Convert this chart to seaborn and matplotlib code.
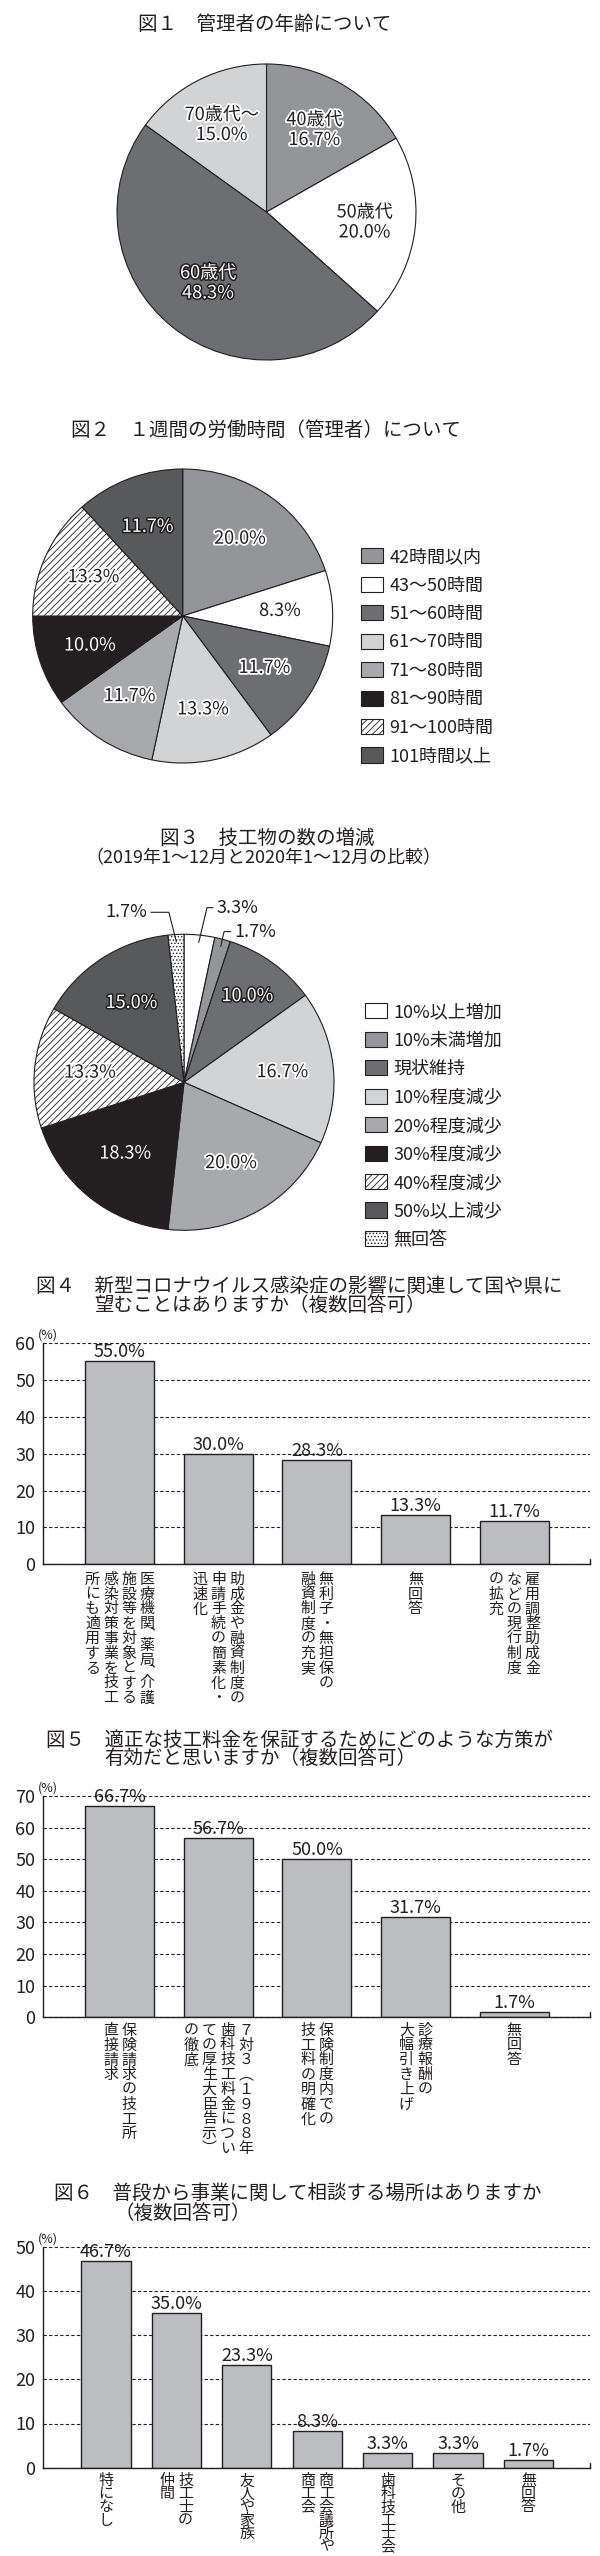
import numpy as np
import pandas as pd
import matplotlib
matplotlib.use('Agg')
import matplotlib.pyplot as plt
import matplotlib.patheffects as pe
import seaborn as sns

# ---------------- data ----------------
age_labels = ['40歳代', '50歳代', '60歳代', '70歳代〜']
age_values = [16.7, 20.0, 48.3, 15.0]

hours_labels = ['42時間以内', '43〜50時間', '51〜60時間', '61〜70時間',
                '71〜80時間', '81〜90時間', '91〜100時間', '101時間以上']
hours_values = [20.0, 8.3, 11.7, 13.3, 11.7, 10.0, 13.3, 11.7]

change_labels = ['10%以上増加', '10%未満増加', '現状維持', '10%程度減少', '20%程度減少',
                 '30%程度減少', '40%程度減少', '50%以上減少', '無回答']
change_values = [3.3, 1.7, 10.0, 16.7, 20.0, 18.3, 13.3, 15.0, 1.7]

q4_cols = [['医療機関、薬局、介護', '施設等を対象とする', '感染対策事業を技工', '所にも適用する'],
           ['助成金や融資制度の', '申請手続の簡素化・', '迅速化'],
           ['無利子・無担保の', '融資制度の充実'],
           ['無回答'],
           ['雇用調整助成金', 'などの現行制度', 'の拡充']]
q4_values = [55.0, 30.0, 28.3, 13.3, 11.7]

q5_cols = [['保険請求の技工所', '直接請求'],
           ['７対３（１９８８年', '歯科技工料金につい', 'ての厚生大臣告示）', 'の徹底'],
           ['保険制度内での', '技工料の明確化'],
           ['診療報酬の', '大幅引き上げ'],
           ['無回答']]
q5_values = [66.7, 56.7, 50.0, 31.7, 1.7]

q6_cols = [['特になし'], ['技工士の', '仲間'], ['友人や家族'], ['商工会議所や', '商工会'],
           ['歯科技工士会'], ['その他'], ['無回答']]
q6_values = [46.7, 35.0, 23.3, 8.3, 3.3, 3.3, 1.7]

# ---------------- style ----------------
sns.set_theme(style='white')
plt.rcParams['font.family'] = ['Noto Sans CJK JP', 'DejaVu Sans']
plt.rcParams['hatch.linewidth'] = 0.6
INK = '#231f20'
BAR = '#bcbdc0'
plt.rcParams['text.color'] = INK

W, H = 600, 2556
fig = plt.figure(figsize=(W / 100, H / 100), dpi=100)
fig.patch.set_facecolor('white')


def rect(l, t, w, h):
    return [l / W, 1 - (t + h) / H, w / W, h / H]


def ftext(x, y, s, size=14, ha='left'):
    fig.text(x / W, 1 - y / H, s, fontsize=size, ha=ha, va='center', color=INK)


FX = {'w': dict(color='white', path_effects=[pe.withStroke(linewidth=2.2, foreground=INK)]),
      'k': dict(color=INK, path_effects=[pe.withStroke(linewidth=2.6, foreground='white')])}


def pie_axes(cx, cy, rx, ry, values, colors, hatches, texts, styles, dists):
    L = 1.35
    ax = fig.add_axes(rect(cx - L * rx, cy - L * ry, 2 * L * rx, 2 * L * ry))
    wedges, _ = ax.pie(values, colors=colors, startangle=90, counterclock=False, radius=1,
                       wedgeprops=dict(edgecolor=INK, linewidth=0.8))
    ax.set_xlim(-L, L)
    ax.set_ylim(-L, L)
    ax.set_aspect('auto')
    ax.axis('off')
    for w, h in zip(wedges, hatches):
        if h:
            w.set_hatch(h)
    for w, t, st, d in zip(wedges, texts, styles, dists):
        if t is None:
            continue
        th = np.deg2rad((w.theta1 + w.theta2) / 2)
        ax.text(d * np.cos(th), d * np.sin(th), t, ha='center', va='center',
                fontsize=13, linespacing=1.15, **FX[st])
    return ax, wedges


def legend(ax, wedges, labels, x, y):
    ax.legend(wedges, labels, loc='upper left', bbox_to_anchor=(x / W, 1 - y / H),
              bbox_transform=fig.transFigure, frameon=False, fontsize=13,
              handlelength=1.22, handleheight=0.92, handletextpad=0.35,
              labelspacing=0.58, borderpad=0, borderaxespad=0)


# ---------------- Figure 1 ----------------
ftext(138, 25, '図１　管理者の年齢について')
pie_axes(266.5, 212, 149.5, 148, age_values,
         ['#939598', 'white', '#6d6e71', '#d1d3d4'], [None] * 4,
         [f'{l}\n{v:.1f}%' for l, v in zip(age_labels, age_values)],
         ['k', 'k', 'w', 'k'], [0.64, 0.66, 0.62, 0.66])

# ---------------- Figure 2 ----------------
ftext(71, 430.7, '図２　１週間の労働時間（管理者）について')
ax2, w2 = pie_axes(182.7, 616, 150, 147, hours_values,
                   ['#939598', 'white', '#6d6e71', '#d1d3d4', '#a7a9ac', INK, 'white', '#58595b'],
                   [None] * 6 + ['/////', None],
                   [f'{v:.1f}%' for v in hours_values],
                   ['k', 'k', 'k', 'k', 'k', 'w', 'k', 'w'], [0.65] * 8)
legend(ax2, w2, hours_labels, 361, 548)

# ---------------- Figure 3 ----------------
ftext(267, 838, '図３　技工物の数の増減', ha='center')
ftext(263, 858, '（2019年1〜12月と2020年1〜12月の比較）', size=13, ha='center')
small = {0, 1, 8}
ax3, w3 = pie_axes(184, 1082.3, 150, 148, change_values,
                   ['white', '#939598', '#6d6e71', '#d1d3d4', '#a7a9ac', INK, 'white', '#58595b', 'white'],
                   [None] * 6 + ['/////', None, '.....'],
                   [None if i in small else f'{v:.1f}%' for i, v in enumerate(change_values)],
                   ['k', 'k', 'w', 'k', 'k', 'w', 'k', 'w', 'k'],
                   [0.65, 0.65, 0.72, 0.66, 0.63, 0.62, 0.63, 0.64, 0.65])
# leader lines for the thin slices: (corner dx, corner dy, horizontal length)
leaders = {0: (0.055, 0.235, 0.04), 1: (0.022, 0.10, 0.045), 8: (-0.05, 0.20, -0.12)}
for i, (cdx, cdy, hl) in leaders.items():
    w = w3[i]
    th = np.deg2rad((w.theta1 + w.theta2) / 2)
    x0, y0 = 0.95 * np.cos(th), 0.95 * np.sin(th)
    x1, y1 = x0 + cdx, y0 + cdy
    x2 = x1 + hl
    ax3.plot([x0, x1, x2], [y0, y1, y1], color=INK, lw=0.8, clip_on=False)
    ax3.text(x2 + (0.025 if hl > 0 else -0.025), y1, f'{change_values[i]:.1f}%',
             ha='left' if hl > 0 else 'right', va='center', fontsize=13, color=INK)
legend(ax3, w3, change_labels, 365, 1003)

# ---------------- bar charts ----------------
VMAP = {'、': '︑', '。': '︒', '（': '︵', '）': '︶'}


def vlabels(ax, cols_list, top_px, step_px, colsp_px=18.3, size=10.8):
    k = 0.72
    for i, cols in enumerate(cols_list):
        n = len(cols)
        for j, col in enumerate(cols):
            dx = ((n - 1) / 2 - j) * colsp_px
            y = top_px
            for ch in col:
                st = step_px * (0.5 if ch in '、。' else 1)
                ax.annotate(VMAP.get(ch, ch), xy=(i, 0), xycoords=ax.get_xaxis_transform(),
                            xytext=(dx * k, -(y + st / 2) * k), textcoords='offset points',
                            ha='center', va='center', fontsize=size, color=INK,
                            annotation_clip=False)
                y += st


def bar_axes(top, hpx, xlim, ymax, cols_list, vals, lab_top, step):
    ax = fig.add_axes(rect(43, top, 547, hpx))
    cats = [''.join(c) for c in cols_list]
    df = pd.DataFrame({'cat': cats, 'val': vals})
    sns.barplot(data=df, x='cat', y='val', order=cats, ax=ax, color=BAR,
                edgecolor=INK, linewidth=1, width=0.7, saturation=1)
    ax.set_xlim(*xlim)
    ax.set_ylim(0, ymax)
    ax.set_yticks(range(0, ymax + 1, 10))
    ax.set_xticks([])
    ax.set_xlabel('')
    ax.set_ylabel('')
    ax.set_axisbelow(True)
    ax.yaxis.grid(True, linestyle=(0, (3, 2)), color=INK, linewidth=0.8)
    ax.xaxis.grid(False)
    for s in ['top', 'right']:
        ax.spines[s].set_visible(False)
    for s in ['left', 'bottom']:
        ax.spines[s].set_color(INK)
        ax.spines[s].set_linewidth(1)
    ax.tick_params(axis='y', length=0, pad=5.5, labelsize=13, labelcolor=INK)
    ax.bar_label(ax.containers[0], labels=[f'{v:.1f}%' for v in vals], padding=0,
                 fontsize=13, color=INK)
    ax.annotate('(%)', xy=(0, 1), xycoords='axes fraction', xytext=(3.6, 5.5),
                textcoords='offset points', ha='center', va='center', fontsize=9, color=INK)
    ax.plot([xlim[1], xlim[1]], [0, ymax * 5 / hpx], color=INK, lw=1, clip_on=False)
    vlabels(ax, cols_list, lab_top, step)
    return ax


# Figure 4
ftext(36.5, 1286.7, '図４　新型コロナウイルス感染症の影響に関連して国や県に')
ftext(94, 1305, '望むことはありますか（複数回答可）')
bar_axes(1342.7, 221.7, (-0.78, 4.77), 60, q4_cols, q4_values, 8, 14.8)

# Figure 5
ftext(46, 1740, '図５　適正な技工料金を保証するためにどのような方策が')
ftext(104, 1758.3, '有効だと思いますか（複数回答可）')
bar_axes(1796, 221.3, (-0.78, 4.77), 70, q5_cols, q5_values, 6, 14.8)

# Figure 6
ftext(54, 2193.3, '図６　普段から事業に関して相談する場所はありますか')
ftext(114, 2213.3, '（複数回答可）')
bar_axes(2246.7, 221, (-0.895, 6.875), 50, q6_cols, q6_values, 7, 13.1)

fig.savefig('out.png', dpi=100, facecolor='white')
